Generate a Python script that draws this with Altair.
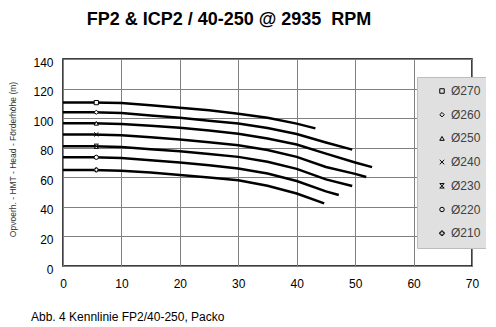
import altair as alt
import pandas as pd

diameters = ["Ø270", "Ø260", "Ø250", "Ø240", "Ø230", "Ø220", "Ø210"]

q270 = [0, 5, 10, 15, 20, 25, 30, 35, 40, 43.2]
h270 = [110.5, 110.5, 110.2, 108.8, 107.0, 105.3, 103.0, 100.2, 96.3, 93.1]

q260 = [0, 5, 10, 15, 20, 25, 30, 35, 40, 45, 49.5]
h260 = [104.0, 104.0, 103.5, 101.8, 100.2, 98.3, 96.3, 93.3, 89.3, 83.5, 78.7]

q250 = [0, 5, 10, 15, 20, 25, 30, 35, 40, 45, 50, 52.9]
h250 = [96.5, 96.5, 96.0, 94.8, 93.5, 91.6, 89.5, 86.2, 82.2, 76.0, 70.0, 66.9]

q240 = [0, 5, 10, 15, 20, 25, 30, 35, 40, 45, 50, 51.9]
h240 = [89.0, 89.0, 88.5, 87.0, 85.5, 83.7, 81.6, 78.5, 73.8, 67.0, 62.3, 60.2]

q230 = [0, 5, 10, 15, 20, 25, 30, 35, 40, 45, 49.5]
h230 = [81.0, 81.0, 80.5, 79.0, 77.6, 75.8, 73.8, 70.5, 65.7, 58.6, 54.1]

q220 = [0, 5, 10, 15, 20, 25, 30, 35, 40, 45, 47.2]
h220 = [73.5, 73.5, 73.0, 71.5, 70.0, 68.2, 66.0, 62.5, 57.5, 50.5, 48.0]

q210 = [0, 5, 10, 15, 20, 25, 30, 35, 40, 44.7]
h210 = [65.0, 65.0, 64.5, 63.2, 61.5, 59.8, 58.0, 54.3, 49.0, 42.4]

marker_q = [5.7, 5.7, 5.7, 5.7, 5.7, 5.7, 5.7]
marker_h = [110.5, 104.0, 96.5, 89.0, 81.0, 73.5, 65.0]

x_ticks = [0, 10, 20, 30, 40, 50, 60, 70]
y_ticks = [0, 20, 40, 60, 80, 100, 120, 140]

title_text = "FP2 & ICP2 / 40-250 @ 2935\u00a0 RPM"
caption_text = "Abb. 4 Kennlinie FP2/40-250, Packo"
y_title = "Opvoerh. - HMT - Head - Förderhöhe (m)"

flows = [q270, q260, q250, q240, q230, q220, q210]
heads = [h270, h260, h250, h240, h230, h220, h210]

rows = []
for d, qs, hs in zip(diameters, flows, heads):
    for q, h in zip(qs, hs):
        rows.append({"dia": d, "q": q, "h": h})
curves = pd.DataFrame(rows)
markers = pd.DataFrame({"dia": diameters, "q": marker_q, "h": marker_h})

shape_range = [
    "square",
    "diamond",
    "triangle-up",
    "M-1,-1L1,1M-1,1L1,-1",
    "M-1,-1L1,-1L-1,1L1,1Z",
    "circle",
    "cross",
]

x_axis = alt.Axis(
    values=x_ticks, title=None, grid=True, gridColor="#808080", gridWidth=1,
    domain=False, ticks=False, labelPadding=12, labelFontSize=12,
    labelColor="black", labelFlush=False, labelOverlap=False,
)
y_axis = alt.Axis(
    values=y_ticks, title=y_title, grid=True, gridColor="#808080", gridWidth=1,
    domain=False, ticks=False, labelPadding=10, labelFontSize=12,
    labelColor="black", labelFlush=False, labelOverlap=False, labelOffset=3,
    titleFontSize=8.5, titleFontWeight="normal", titleColor="#333333",
    titleX=-51, titleY=100, titleAngle=270, titleAlign="center",
    titleBaseline="middle",
)
x_scale = alt.Scale(domain=[0, 70], nice=False, zero=False)
y_scale = alt.Scale(domain=[0, 140], nice=False)

lines = alt.Chart(curves).mark_line(color="black", strokeWidth=2.5).encode(
    x=alt.X("q:Q", scale=x_scale, axis=x_axis),
    y=alt.Y("h:Q", scale=y_scale, axis=y_axis),
    detail="dia:N",
)

shape_scale = alt.Scale(domain=diameters, range=shape_range)

points_fill = alt.Chart(markers).mark_point(
    filled=True, color="white", size=18, opacity=1,
).encode(
    x=alt.X("q:Q", scale=x_scale, axis=x_axis),
    y=alt.Y("h:Q", scale=y_scale, axis=y_axis),
    shape=alt.Shape("dia:N", scale=shape_scale, legend=None),
)

points = alt.Chart(markers).mark_point(
    filled=False, color="black", strokeWidth=1, size=18, opacity=1,
).encode(
    x=alt.X("q:Q", scale=x_scale, axis=x_axis),
    y=alt.Y("h:Q", scale=y_scale, axis=y_axis),
    shape=alt.Shape(
        "dia:N",
        scale=shape_scale,
        legend=alt.Legend(
            orient="none", legendX=354, legendY=18, title=None,
            fillColor="#e0e0e0", strokeColor="#bdbdbd", padding=8,
            symbolSize=20, symbolStrokeColor="black", symbolFillColor="white",
            symbolStrokeWidth=1, symbolOffset=11, labelOffset=3,
            labelFontSize=12, labelColor="#404040", rowPadding=11.7,
            labelExpr="datum.label + '\u00a0\u00a0'",
        ),
    ),
)

title = alt.Chart(alt.Data(values=[{}])).mark_text(
    text=title_text, fontSize=18, fontWeight="bold", align="center",
    baseline="alphabetic", color="black",
).encode(x=alt.value(166), y=alt.value(-34))

caption = alt.Chart(alt.Data(values=[{}])).mark_text(
    text=caption_text, fontSize=12, align="left", baseline="alphabetic",
    color="black",
).encode(x=alt.value(-32), y=alt.value(262))

chart = alt.layer(lines, points_fill, points, title, caption).resolve_scale(
    shape="independent"
).properties(
    width=409, height=207,
    autosize=alt.AutoSizeParams(type="none"),
    padding={"left": 55, "top": 51, "right": 14, "bottom": 61},
).configure(font="Liberation Sans").configure_view(
    stroke="black", strokeWidth=1.5
)

chart.save("out.html", embed_options={"renderer": "svg", "actions": False})
